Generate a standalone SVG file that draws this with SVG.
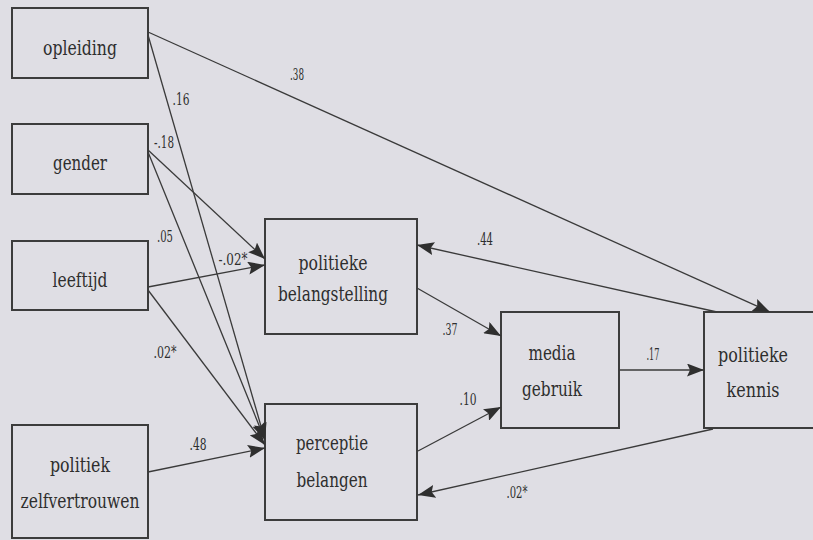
<svg xmlns="http://www.w3.org/2000/svg" width="813" height="540" viewBox="0 0 813 540">
<style>
.box{fill:none;stroke:#3c3c3c;stroke-width:2}
.nt{font-family:'DejaVu Serif',serif;font-size:21px;fill:#2e2e2e;text-anchor:middle}
.lb{font-family:'DejaVu Serif',serif;font-size:16px;fill:#2e2e2e;text-anchor:middle}
.ln{stroke:#3a3a3a;stroke-width:1.3;fill:none;marker-end:url(#ah)}
</style>
<defs>
<marker id="ah" markerUnits="userSpaceOnUse" viewBox="0 0 17 13" refX="17" refY="6.5" markerWidth="17" markerHeight="13" orient="auto">
<path d="M0,0 L17,6.5 L0,13 L3,6.5 Z" fill="#2f2f2f"/>
</marker>
</defs>
<rect width="813" height="540" fill="#dfdee4"/>
<g id="opleiding"><rect class="box" x="12" y="8" width="136" height="70"/><text class="nt" x="80" y="55" textLength="74" lengthAdjust="spacingAndGlyphs">opleiding</text></g>
<g id="gender"><rect class="box" x="12" y="124" width="136" height="70"/><text class="nt" x="80" y="170" textLength="54" lengthAdjust="spacingAndGlyphs">gender</text></g>
<g id="leeftijd"><rect class="box" x="12" y="241" width="136" height="69"/><text class="nt" x="80" y="287" textLength="55" lengthAdjust="spacingAndGlyphs">leeftijd</text></g>
<g id="zelfvertrouwen"><rect class="box" x="12" y="425" width="136" height="113"/><text class="nt" x="80" y="472" textLength="60" lengthAdjust="spacingAndGlyphs">politiek</text><text class="nt" x="80" y="508" textLength="119" lengthAdjust="spacingAndGlyphs">zelfvertrouwen</text></g>
<g id="belangstelling"><rect class="box" x="265" y="219" width="152" height="115"/><text class="nt" x="333" y="270" textLength="69" lengthAdjust="spacingAndGlyphs">politieke</text><text class="nt" x="333" y="301" textLength="110" lengthAdjust="spacingAndGlyphs">belangstelling</text></g>
<g id="perceptie"><rect class="box" x="265" y="404" width="152" height="116"/><text class="nt" x="332" y="450" textLength="72" lengthAdjust="spacingAndGlyphs">perceptie</text><text class="nt" x="332" y="487" textLength="71" lengthAdjust="spacingAndGlyphs">belangen</text></g>
<g id="media"><rect class="box" x="501" y="312" width="118" height="116"/><text class="nt" x="552" y="360" textLength="47" lengthAdjust="spacingAndGlyphs">media</text><text class="nt" x="552" y="396" textLength="60" lengthAdjust="spacingAndGlyphs">gebruik</text></g>
<g id="kennis"><rect class="box" x="704" y="312" width="120" height="116"/><text class="nt" x="753" y="362" textLength="70" lengthAdjust="spacingAndGlyphs">politieke</text><text class="nt" x="753" y="397" textLength="53" lengthAdjust="spacingAndGlyphs">kennis</text></g>
<g id="connectors">
<path class="ln" d="M148,32 L770,312"/>
<path class="ln" d="M148,35 L265,440"/>
<path class="ln" d="M148,150 L265,259"/>
<path class="ln" d="M148,152 L265,440"/>
<path class="ln" d="M148,287 L265,265"/>
<path class="ln" d="M148,290 L265,445"/>
<path class="ln" d="M148,472 L265,448"/>
<path class="ln" d="M717,312 L417,245"/>
<path class="ln" d="M417,288 L501,336"/>
<path class="ln" d="M418,451 L501,407"/>
<path class="ln" d="M713,429 L418,495"/>
<path class="ln" d="M619,370 L704,370"/>
<text class="lb" x="297" y="80" textLength="14" lengthAdjust="spacingAndGlyphs">.38</text>
<text class="lb" x="181" y="105" textLength="17" lengthAdjust="spacingAndGlyphs">.16</text>
<text class="lb" x="164" y="148" textLength="20" lengthAdjust="spacingAndGlyphs">-.18</text>
<text class="lb" x="165" y="242" textLength="16" lengthAdjust="spacingAndGlyphs">.05</text>
<text class="lb" x="233" y="265" textLength="29" lengthAdjust="spacingAndGlyphs">-.02*</text>
<text class="lb" x="165" y="358" textLength="23" lengthAdjust="spacingAndGlyphs">.02*</text>
<text class="lb" x="198" y="450" textLength="17" lengthAdjust="spacingAndGlyphs">.48</text>
<text class="lb" x="485" y="245" textLength="16" lengthAdjust="spacingAndGlyphs">.44</text>
<text class="lb" x="450" y="335" textLength="15" lengthAdjust="spacingAndGlyphs">.37</text>
<text class="lb" x="468" y="405" textLength="17" lengthAdjust="spacingAndGlyphs">.10</text>
<text class="lb" x="517" y="498" textLength="21" lengthAdjust="spacingAndGlyphs">.02*</text>
<text class="lb" x="653" y="360" textLength="13" lengthAdjust="spacingAndGlyphs">.17</text>
</g>
</svg>
